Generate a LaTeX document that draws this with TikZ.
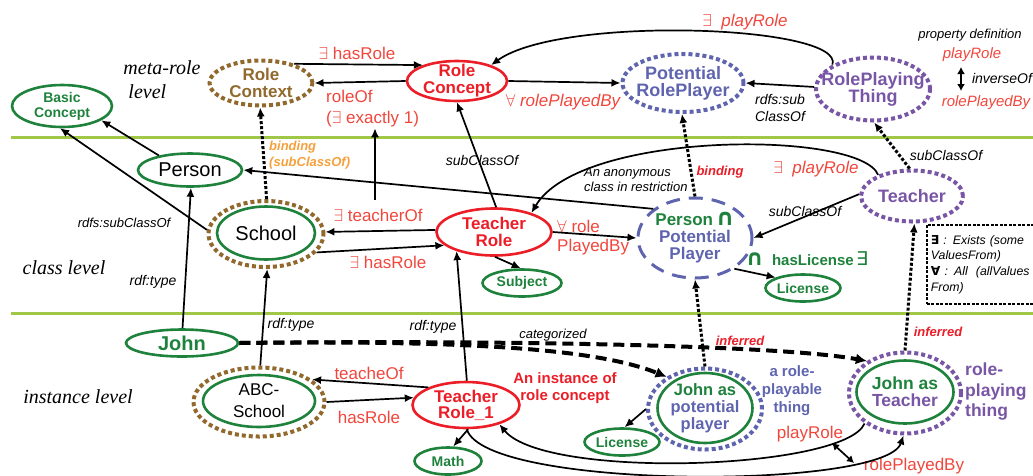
\documentclass[tikz,border=0pt]{standalone}
\usepackage{amsmath}
\usepackage{amssymb}
\usepackage{fontspec}
\setmainfont{Liberation Sans}
\newfontfamily\levelfont{Liberation Serif}
\newfontfamily\symfont{DejaVu Sans}
\usepackage{tikz}
\usepackage{xcolor}
\usetikzlibrary{arrows.meta}
\usetikzlibrary{shapes.geometric}

\definecolor{cgreen}{RGB}{30,130,60}
\definecolor{cred}{RGB}{235,30,40}
\definecolor{lred}{RGB}{240,70,60}
\definecolor{cbrown}{RGB}{145,105,45}
\definecolor{cblue}{RGB}{95,100,175}
\definecolor{cpurple}{RGB}{120,85,165}
\definecolor{corange}{RGB}{245,160,60}
\definecolor{cline}{RGB}{160,200,70}

\newcommand{\fsz}[2]{\fontsize{#1}{#2}\selectfont}

\tikzset{
    ell/.style={ellipse, line width=2.6pt, inner xsep=-8pt, inner ysep=-5pt, align=center},
    gcon/.style={ell, draw=cgreen, text=cgreen, font=\bfseries\fsz{14}{15}},
    gplain/.style={ell, draw=cgreen, font=\fsz{20}{17}},
    rcon/.style={ell, draw=cred, text=cred, font=\bfseries\fsz{17}{17}},
    ring/.style={ell, line width=4pt, dash pattern=on 4pt off 3pt},
    arr/.style={line width=1.7pt, -{Latex[length=9pt,width=8pt]}},
    bind/.style={arr, line width=3pt, dash pattern=on 3pt off 2pt},
    cat/.style={line width=4pt, dash pattern=on 11pt off 6pt, -{Latex[length=11pt,width=11pt]}},
    lbl/.style={font=\itshape\fsz{14}{17}, align=left, inner sep=1pt},
    rlbl/.style={text=lred, font=\fsz{17}{21}, align=left, inner sep=1pt},
    blbl/.style={font=\bfseries\itshape\fsz{13}{16}, align=left, inner sep=1pt},
    lvl/.style={font=\levelfont\itshape\fsz{20}{24}, align=left, inner sep=1pt},
}

\begin{document}
\begin{tikzpicture}[x=1pt, y=-1pt]
    \useasboundingbox (0,0) rectangle (1033,475);
    \draw[cline, line width=3pt] (11,137) -- (1033,137);
    \draw[cline, line width=3pt] (11,313) -- (1033,313);

    \node[lvl] (metalvl) at (162,80) {meta-role\\\hspace*{5pt}level};
    \node[lvl] (classlvl) at (64,268) {class level};
    \node[lvl] (instlvl) at (78,397) {instance level};

    % meta-role level
    \node[gcon, minimum width=100pt, minimum height=42pt] (basic) at (62,106) {Basic\\Concept};
    \node[ring, draw=cbrown, text=cbrown, font=\bfseries\fsz{17}{17},
        minimum width=103pt, minimum height=45pt] (rolectx) at (261,83) {Role\\Context};
    \node[rcon, minimum width=100pt, minimum height=40pt] (rolecon) at (457,81) {Role\\Concept};
    \node[ring, draw=cblue, text=cblue, font=\bfseries\fsz{18}{17},
        minimum width=121pt, minimum height=58pt] (potplayer) at (683,83) {Potential\\RolePlayer};
    \node[ring, draw=cpurple, text=cpurple, font=\bfseries\fsz{18}{17}, inner xsep=-12pt,
        minimum width=114pt, minimum height=63pt] (rpthing) at (873,89) {RolePlaying\\Thing};

    \node[rlbl] (hasrolea) at (357,53) {$\exists$ hasRole};
    \node[rlbl, anchor=north west] (roleof) at (325,89) {roleOf\\($\exists$ exactly 1)};
    \node[rlbl, font=\itshape\fsz{17}{17}] (rpbtop) at (563,102) {$\forall$ rolePlayedBy};
    \node[lbl, align=center] (subcoa) at (780,108) {rdfs:sub\\ClassOf};
    \node[rlbl, font=\itshape\fsz{17}{17}] (playtop) at (745,22) {$\exists$\ \ playRole};

    \node[lbl, font=\itshape\fsz{13}{15}] (propdef) at (970,35) {property definition};
    \node[rlbl, font=\itshape\fsz{15}{15}] (lgplay) at (972,55) {playRole};
    \node[lbl] (invof) at (1002,78) {inverseOf};
    \node[rlbl, font=\itshape\fsz{15}{15}] (lgrpb) at (986,103) {rolePlayedBy};
    \coordinate (inv1) at (961,67);
    \coordinate (inv2) at (961,91);

    % class level
    \node[gplain, minimum width=104pt, minimum height=33pt] (person) at (190,170) {Person};
    \node[ring, draw=cbrown, minimum width=115pt, minimum height=66pt] (schoolring) at (266,234) {};
    \node[gplain, minimum width=98pt, minimum height=53pt] (school) at (266,233) {School};
    \node[rcon, minimum width=115pt, minimum height=47pt] (trole) at (494,232) {Teacher\\Role};
    \node[gcon, minimum width=79pt, minimum height=27pt] (subject) at (522,283) {Subject};
    \node[ell, draw=cblue, line width=3pt, dash pattern=on 14pt off 9pt, text=cblue,
        font=\bfseries\fsz{17}{17}, minimum width=114pt, minimum height=80pt] (pnpp) at (695,238)
        {{\color{cgreen}Person\,{\symfont\bfseries\fsz{23}{17}∩}}\\Potential\\Player};
    \node[gcon, minimum width=75pt, minimum height=27pt] (lic) at (803,288) {License};
    \node[ring, draw=cpurple, text=cpurple, font=\bfseries\fsz{18}{18},
        minimum width=102pt, minimum height=51pt] (teacher) at (912,196) {Teacher};

    \node[blbl, text=corange, anchor=west] (bindlbl) at (268,155) {binding\\(subClassOf)};
    \node[lbl] (subcob) at (482,160) {subClassOf};
    \node[lbl, font=\itshape\fsz{13}{15}] (rdfsub) at (124,223) {rdfs:subClassOf};
    \node[lbl] (typea) at (153,282) {rdf:type};
    \node[rlbl] (teachof) at (378,215) {$\exists$ teacherOf};
    \node[rlbl] (hasroleb) at (388,262) {$\exists$ hasRole};
    \node[lbl, font=\itshape\fsz{13}{15}, anchor=west] (anon) at (583,180) {An anonymous\\class in restriction};
    \node[blbl, text=cred] (bindb) at (720,172) {binding};
    \node[rlbl, font=\itshape\fsz{17}{17}] (playmid) at (816,169) {$\exists$\ \ playRole};
    \node[rlbl, font=\fsz{17}{19}, anchor=west] (rpbmid) at (556,238) {$\forall$ role\\PlayedBy};
    \node[lbl] (subcoc) at (805,211) {subClassOf};
    \node[text=cgreen, font=\bfseries\fsz{15}{15}, inner sep=1pt] (haslic) at (807,259)
        {{\symfont\bfseries\fsz{22}{17}∩}\ \ hasLicense\,{\symfont\mdseries\fsz{19}{17}∃}};
    \node[lbl] (subcod) at (946,155) {subClassOf};
    \node[draw, line width=1.8pt, dash pattern=on 3pt off 1.5pt, anchor=north west, inner sep=4pt,
        text width=112pt, minimum height=79pt, font=\itshape\fsz{12.3}{15.7}, align=left] (legend) at (926,224)
        {{\symfont\bfseries\upshape ∃} : Exists (some\\ValuesFrom)\\{\symfont\bfseries\upshape ∀} : All\ \ (allValues\\From)};

    % instance level
    \node[gcon, font=\bfseries\fsz{20}{20}, minimum width=112pt, minimum height=27pt] (john) at (182,343) {John};
    \node[ring, draw=cbrown, minimum width=131pt, minimum height=69pt] (abcring) at (259,402) {};
    \node[ell, draw=cgreen, font=\fsz{17}{22}, minimum width=112pt, minimum height=52pt] (abc) at (259,401) {ABC-\\School};
    \node[rcon, font=\bfseries\fsz{17}{16}, minimum width=107pt, minimum height=46pt] (trone) at (466,405) {Teacher\\Role\_1};
    \node[gcon, minimum width=67pt, minimum height=27pt] (math) at (448,461) {Math};
    \node[ring, draw=cblue, minimum width=114pt, minimum height=81pt] (jppring) at (705,409) {};
    \node[ell, draw=cgreen, text=cblue, font=\bfseries\fsz{16.5}{17},
        minimum width=95pt, minimum height=70pt] (jpp) at (705,408) {{\color{cgreen}John as}\\potential\\player};
    \node[gcon, minimum width=75pt, minimum height=27pt] (lic2) at (622,442) {License};
    \node[ring, draw=cpurple, minimum width=112pt, minimum height=81pt] (jatring) at (905,393) {};
    \node[ell, draw=cgreen, text=cpurple, font=\bfseries\fsz{17.5}{17},
        minimum width=97pt, minimum height=63pt] (jat) at (905,392) {{\color{cgreen}John as}\\Teacher};

    \node[lbl] (typeb) at (291,325) {rdf:type};
    \node[lbl] (typec) at (433,327) {rdf:type};
    \node[lbl, font=\itshape\fsz{13}{15}] (categ) at (553,335) {categorized};
    \node[blbl, text=cred] (infa) at (740,341) {inferred};
    \node[blbl, text=cred] (infb) at (938,332) {inferred};
    \node[rlbl] (teacheof) at (369,373) {teacheOf};
    \node[rlbl] (hasrolec) at (369,417) {hasRole};
    \node[text=cred, font=\bfseries\fsz{15}{17}, align=center, inner sep=1pt] (inst) at (565,388) {An instance of\\role concept};
    \node[text=cblue, font=\bfseries\fsz{15}{18}, align=center, inner sep=1pt] (playable) at (792,391) {a role-\\playable\\thing};
    \node[text=cpurple, font=\bfseries\fsz{17.5}{20.5}, align=left, anchor=west, inner sep=1pt] (playing) at (964,392) {role-\\playing\\thing};
    \node[rlbl] (playbot) at (810,434) {playRole};
    \node[rlbl] (rpbbot) at (914,466) {rolePlayedBy};
    \coordinate (inv3) at (832,443);
    \coordinate (inv4) at (854,463);

    % connectors
    \draw[line width=1.7pt, {Latex[length=7pt,width=8pt]}-{Latex[length=7pt,width=8pt]}] (inv1) -- (inv2);
    \draw[line width=1.7pt, {Latex[length=7pt,width=8pt]}-{Latex[length=7pt,width=8pt]}] (inv3) -- (inv4);
    \draw[arr] (person.155) -- (basic.-20);
    \draw[arr] (schoolring.176) -- (basic.-95);
    \draw[arr] (john.88) -- (person.-87);
    \draw[arr] (abcring.88) -- (schoolring.-88);
    \draw[arr] (trone.88) -- (trole.-153);
    \draw[bind] (schoolring.89) -- (rolectx.-92);
    \draw[arr] (trole.85) -- (rolecon.-90);
    \draw[arr] (trole.178) -- (schoolring.2);
    \draw[arr] (schoolring.-20) -- (trole.-165);
    \coordinate (tof) at (375,200);
    \draw[arr] (tof) -- (tof |- roleof.south);
    \draw[arr] (rolectx.30) -- (rolecon.155);
    \draw[arr] (rolecon.180) -- (rolectx.0);
    \draw[arr] (rolecon.0) -- (potplayer.180);
    \draw[arr] (rpthing.178) -- (potplayer.0);
    \draw[arr] (rpthing.149) .. controls (845,25) and (560,15) .. (rolecon.25);
    \draw[bind] (pnpp.90) -- (potplayer.-92);
    \draw[bind] (teacher.95) -- (rpthing.-88);
    \draw[arr] (teacher.178) -- (pnpp.0);
    \draw[arr] (pnpp.145) -- (person.0);
    \draw[arr] (teacher.148) .. controls (860,130) and (580,130) .. (trole.27);
    \draw[arr] (trole.0) -- (pnpp.180);
    \draw[arr] (trole.-88) -- (subject.95);
    \draw[arr] (pnpp.-38) -- (lic.159);
    \draw[bind] (jppring.90) -- (pnpp.-90);
    \draw[bind] (jatring.90) -- (teacher.-85);
    \draw[cat] (john.0) .. controls (480,340) and (600,350) .. (jppring.140);
    \draw[cat] (john.0) .. controls (500,340) and (780,345) .. (jatring.140);
    \draw[arr] (jppring.180) -- (lic2.80);
    \draw[arr] (trone.155) -- (abcring.23);
    \draw[arr] (abcring.0) -- (trone.172);
    \draw[arr] (trone.-85) -- (math.70);
    \draw[arr] (jatring.-143) .. controls (845,470) and (545,480) .. (trone.-30);
    \draw[arr] (trone.-88) .. controls (485,490) and (885,490) .. (jatring.-92);
\end{tikzpicture}
\end{document}
